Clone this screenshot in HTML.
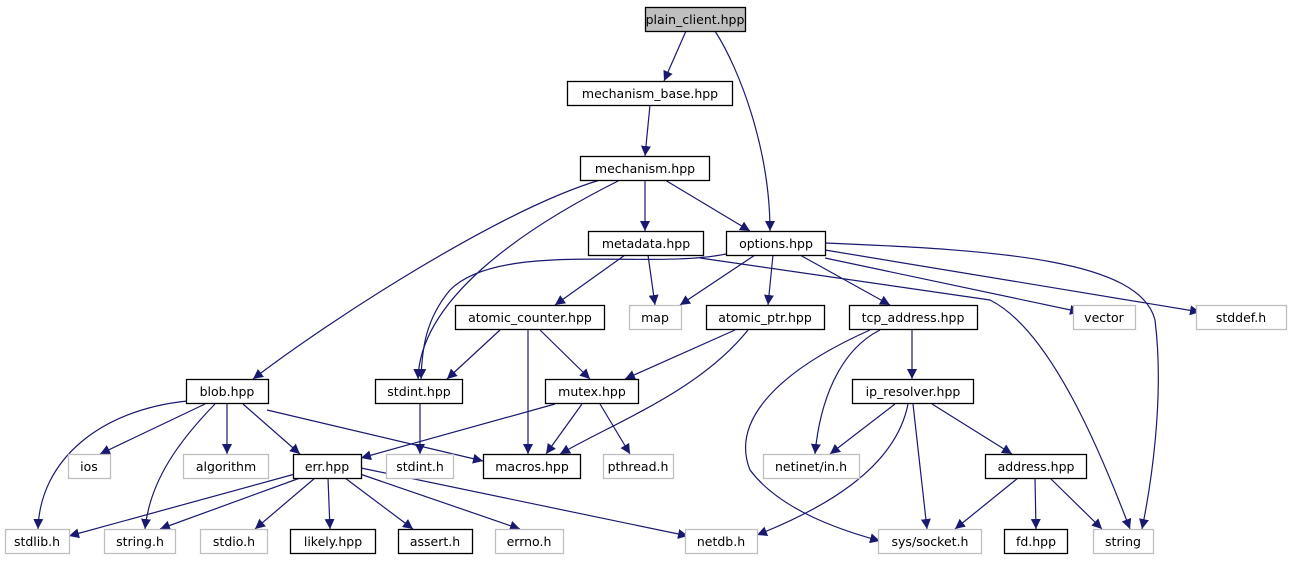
<!DOCTYPE html>
<html><head><meta charset="utf-8"><style>
body{margin:0;background:#fff;}
svg text{font-family:"DejaVu Sans","Liberation Sans",sans-serif;font-size:12.5px;text-anchor:middle;}
</style></head><body>
<svg width="1291" height="560" viewBox="0 0 1291 560" xmlns="http://www.w3.org/2000/svg">
<defs><marker id="a" viewBox="0 0 10 10" refX="10" refY="5" markerWidth="10" markerHeight="10" markerUnits="userSpaceOnUse" orient="auto"><path d="M0,0 L10,5 L0,10 z" fill="#191970"/></marker></defs>
<g fill="none" stroke="#191970" stroke-width="1.2" marker-end="url(#a)">
<path d="M686,31 L664,81"/>
<path d="M715,31 C740,70 770,150 770,231"/>
<path d="M650,105 L645,156"/>
<path d="M645,180 L645,231"/>
<path d="M665,180 L750,231"/>
<path d="M600,180 C500,210 330,320 253,379"/>
<path d="M620,180 C520,230 420,300 418,379"/>
<path d="M625,255 L555,305"/>
<path d="M648,255 L655,305"/>
<path d="M700,258 L990,300 C1050,330 1100,450 1130,529"/>
<path d="M755,255 L680,305"/>
<path d="M773,255 L768,305"/>
<path d="M800,255 L890,305"/>
<path d="M825,258 L1080,312"/>
<path d="M825,250 L1200,312"/>
<path d="M825,243 C1000,250 1140,260 1155,320 C1165,400 1150,490 1142,529"/>
<path d="M726,254 C650,270 500,240 450,290 C425,320 422,350 421,379"/>
<path d="M500,330 L447,379"/>
<path d="M528,330 L528,454"/>
<path d="M540,330 L590,379"/>
<path d="M735,330 L625,379"/>
<path d="M748,330 C700,390 620,420 560,454"/>
<path d="M880,330 C840,350 820,400 815,454"/>
<path d="M870,330 C780,370 730,420 750,470 C780,510 840,530 880,541"/>
<path d="M912,330 L912,379"/>
<path d="M205,404 L100,454"/>
<path d="M187,401 C100,410 40,460 38,529"/>
<path d="M215,404 C180,440 150,480 145,529"/>
<path d="M227,404 L227,454"/>
<path d="M243,404 L300,454"/>
<path d="M267,410 L483,461"/>
<path d="M420,404 L420,454"/>
<path d="M555,404 L361,458"/>
<path d="M582,404 L546,454"/>
<path d="M600,404 L630,454"/>
<path d="M895,404 L830,454"/>
<path d="M913,404 L927,529"/>
<path d="M932,404 L1012,454"/>
<path d="M908,404 C895,470 820,510 757,535"/>
<path d="M1018,478 L955,529"/>
<path d="M1035,478 L1036,529"/>
<path d="M1050,478 L1102,529"/>
<path d="M295,474 L69,536"/>
<path d="M300,478 L160,529"/>
<path d="M315,478 L255,529"/>
<path d="M328,478 L330,529"/>
<path d="M345,478 L413,529"/>
<path d="M360,474 L520,529"/>
<path d="M361,468 L688,536"/>
</g>
<g stroke-width="1.3">
<rect x="645.5" y="7.5" width="100" height="24" fill="#bfbfbf" stroke="#000"/>
<rect x="567.5" y="81.5" width="165" height="24" fill="#fff" stroke="#000"/>
<rect x="580.5" y="156.5" width="129" height="24" fill="#fff" stroke="#000"/>
<rect x="588.5" y="231.5" width="115" height="24" fill="#fff" stroke="#000"/>
<rect x="726.5" y="231.5" width="99" height="24" fill="#fff" stroke="#000"/>
<rect x="455.5" y="305.5" width="149" height="24" fill="#fff" stroke="#000"/>
<rect x="629.5" y="305.5" width="52" height="24" fill="#fff" stroke="#bfbfbf"/>
<rect x="706.5" y="305.5" width="118" height="24" fill="#fff" stroke="#000"/>
<rect x="849.5" y="305.5" width="128" height="24" fill="#fff" stroke="#000"/>
<rect x="1073.5" y="305.5" width="62" height="24" fill="#fff" stroke="#bfbfbf"/>
<rect x="1196.5" y="305.5" width="90" height="24" fill="#fff" stroke="#bfbfbf"/>
<rect x="186.5" y="379.5" width="82" height="24" fill="#fff" stroke="#000"/>
<rect x="375.5" y="379.5" width="87" height="24" fill="#fff" stroke="#000"/>
<rect x="545.5" y="379.5" width="93" height="24" fill="#fff" stroke="#000"/>
<rect x="852.5" y="379.5" width="121" height="24" fill="#fff" stroke="#000"/>
<rect x="68.5" y="454.5" width="42" height="24" fill="#fff" stroke="#bfbfbf"/>
<rect x="183.5" y="454.5" width="85" height="24" fill="#fff" stroke="#bfbfbf"/>
<rect x="293.5" y="454.5" width="68" height="24" fill="#fff" stroke="#000"/>
<rect x="386.5" y="454.5" width="67" height="24" fill="#fff" stroke="#bfbfbf"/>
<rect x="483.5" y="454.5" width="97" height="24" fill="#fff" stroke="#000"/>
<rect x="603.5" y="454.5" width="70" height="24" fill="#fff" stroke="#bfbfbf"/>
<rect x="763.5" y="454.5" width="96" height="24" fill="#fff" stroke="#bfbfbf"/>
<rect x="985.5" y="454.5" width="101" height="24" fill="#fff" stroke="#000"/>
<rect x="5.5" y="529.5" width="64" height="24" fill="#fff" stroke="#bfbfbf"/>
<rect x="104.5" y="529.5" width="71" height="24" fill="#fff" stroke="#bfbfbf"/>
<rect x="200.5" y="529.5" width="67" height="24" fill="#fff" stroke="#bfbfbf"/>
<rect x="290.5" y="529.5" width="85" height="24" fill="#fff" stroke="#000"/>
<rect x="398.5" y="529.5" width="74" height="24" fill="#fff" stroke="#000"/>
<rect x="495.5" y="529.5" width="68" height="24" fill="#fff" stroke="#bfbfbf"/>
<rect x="685.5" y="529.5" width="72" height="24" fill="#fff" stroke="#bfbfbf"/>
<rect x="878.5" y="529.5" width="103" height="24" fill="#fff" stroke="#bfbfbf"/>
<rect x="1004.5" y="529.5" width="63" height="24" fill="#fff" stroke="#000"/>
<rect x="1093.5" y="529.5" width="60" height="24" fill="#fff" stroke="#bfbfbf"/>
</g>
<g fill="#000">
<text x="695" y="24">plain_client.hpp</text>
<text x="650" y="98">mechanism_base.hpp</text>
<text x="645" y="173">mechanism.hpp</text>
<text x="646" y="248">metadata.hpp</text>
<text x="776" y="248">options.hpp</text>
<text x="530" y="322">atomic_counter.hpp</text>
<text x="655" y="322">map</text>
<text x="765" y="322">atomic_ptr.hpp</text>
<text x="913" y="322">tcp_address.hpp</text>
<text x="1104" y="322">vector</text>
<text x="1241" y="322">stddef.h</text>
<text x="227" y="396">blob.hpp</text>
<text x="419" y="396">stdint.hpp</text>
<text x="592" y="396">mutex.hpp</text>
<text x="913" y="396">ip_resolver.hpp</text>
<text x="89" y="471">ios</text>
<text x="226" y="471">algorithm</text>
<text x="327" y="471">err.hpp</text>
<text x="420" y="471">stdint.h</text>
<text x="532" y="471">macros.hpp</text>
<text x="638" y="471">pthread.h</text>
<text x="811" y="471">netinet/in.h</text>
<text x="1036" y="471">address.hpp</text>
<text x="37" y="546">stdlib.h</text>
<text x="140" y="546">string.h</text>
<text x="234" y="546">stdio.h</text>
<text x="333" y="546">likely.hpp</text>
<text x="435" y="546">assert.h</text>
<text x="529" y="546">errno.h</text>
<text x="721" y="546">netdb.h</text>
<text x="930" y="546">sys/socket.h</text>
<text x="1036" y="546">fd.hpp</text>
<text x="1123" y="546">string</text>
</g>
</svg>
</body></html>
